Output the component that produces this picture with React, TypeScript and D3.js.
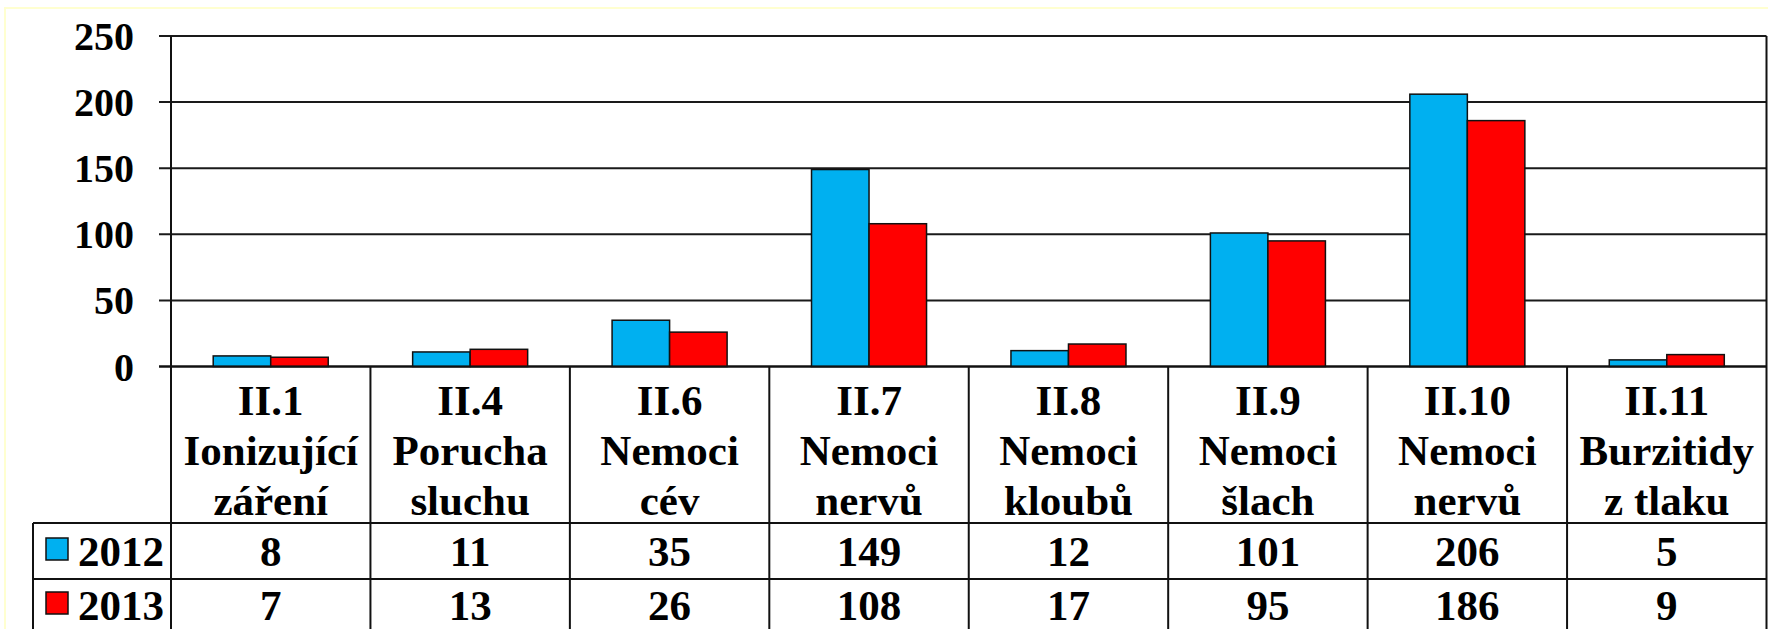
import React, { useEffect, useRef } from 'react';
import * as d3 from 'd3';

// category codes + two-line names shown in the table header
const codes = ['II.1', 'II.4', 'II.6', 'II.7', 'II.8', 'II.9', 'II.10', 'II.11'];
const names1 = ['Ionizující', 'Porucha', 'Nemoci', 'Nemoci', 'Nemoci', 'Nemoci', 'Nemoci', 'Burzitidy'];
const names2 = ['záření', 'sluchu', 'cév', 'nervů', 'kloubů', 'šlach', 'nervů', 'z tlaku'];
const series = ['2012', '2013'];
const values2012 = [8, 11, 35, 149, 12, 101, 206, 5];
const values2013 = [7, 13, 26, 108, 17, 95, 186, 9];
const colors = ['#00B0F0', '#FF0000'];
const yTicks = [0, 50, 100, 150, 200, 250];

const FONT = "'Liberation Serif', 'DejaVu Serif', serif";

const App: React.FC = () => {
  const ref = useRef<SVGSVGElement>(null);

  useEffect(() => {
    if (!ref.current) return;
    const svg = d3.select(ref.current);
    svg.selectAll('*').remove();

    const width = 1768;
    const height = 629;
    const plotLeft = 171;
    const plotRight = 1766.5;
    const plotTop = 36;
    const plotBottom = 366.5;
    const tableLeft = 33;
    const row1 = 523;
    const row2 = 579;

    svg.attr('width', width).attr('height', height)
      .style('font-family', FONT).style('font-weight', '700');

    // pale frame
    svg.append('rect')
      .attr('x', 5).attr('y', 8)
      .attr('width', width).attr('height', height)
      .attr('fill', 'white')
      .attr('stroke', '#ffffd0')
      .attr('stroke-width', 2);

    const x = d3.scaleBand<string>().domain(codes).range([plotLeft, plotRight]);
    const xs = d3.scaleBand<string>().domain(series)
      .range([0, x.bandwidth()]).paddingInner(0).paddingOuter(0.734);
    const y = d3.scaleLinear().domain([0, 250]).range([plotBottom, plotTop]);

    // gridlines + ticks
    svg.append('g').selectAll('line').data(yTicks).join('line')
      .attr('x1', 159).attr('x2', plotRight)
      .attr('y1', d => y(d)).attr('y2', d => y(d))
      .attr('stroke', '#1a1a1a').attr('stroke-width', 2);

    svg.append('g').selectAll('text').data(yTicks).join('text')
      .attr('x', 134).attr('y', d => y(d))
      .attr('dy', '0.35em')
      .attr('text-anchor', 'end')
      .style('font-size', '40px')
      .text(d => d);

    // bars
    const allVals = [values2012, values2013];
    allVals.forEach((vals, si) => {
      svg.append('g').selectAll('rect').data(vals).join('rect')
        .attr('x', (_, i) => (x(codes[i]) ?? 0) + (xs(series[si]) ?? 0))
        .attr('y', d => y(d))
        .attr('width', xs.bandwidth())
        .attr('height', d => y(0) - y(d))
        .attr('fill', colors[si])
        .attr('stroke', '#111').attr('stroke-width', 1.5);
    });

    // axis frame
    const frame = svg.append('g').attr('stroke', '#111').attr('stroke-width', 2);
    frame.append('line').attr('x1', plotLeft).attr('x2', plotLeft).attr('y1', plotTop).attr('y2', height);
    frame.append('line').attr('x1', plotRight).attr('x2', plotRight).attr('y1', plotTop).attr('y2', height);
    frame.append('line').attr('x1', 159).attr('x2', plotRight).attr('y1', plotBottom).attr('y2', plotBottom);

    // table lines
    codes.slice(1).forEach(c => {
      frame.append('line').attr('x1', x(c) ?? 0).attr('x2', x(c) ?? 0)
        .attr('y1', plotBottom).attr('y2', height);
    });
    [row1, row2].forEach(ry => {
      frame.append('line').attr('x1', tableLeft).attr('x2', plotRight).attr('y1', ry).attr('y2', ry);
    });
    frame.append('line').attr('x1', tableLeft).attr('x2', tableLeft).attr('y1', row1).attr('y2', height);

    // header text + values
    const hdr = svg.append('g').style('font-size', '43px').attr('text-anchor', 'middle');
    codes.forEach((c, i) => {
      const cx = (x(c) ?? 0) + x.bandwidth() / 2;
      [c, names1[i], names2[i]].forEach((t, li) => {
        hdr.append('text').attr('x', cx).attr('y', 415 + li * 50).text(t);
      });
      allVals.forEach((vals, si) => {
        hdr.append('text').attr('x', cx).attr('y', si === 0 ? 566 : 620).text(vals[i]);
      });
    });

    // legend cells
    series.forEach((s, si) => {
      const baseY = si === 0 ? 566 : 620;
      svg.append('rect')
        .attr('x', 46).attr('y', baseY - 28)
        .attr('width', 22).attr('height', 22)
        .attr('fill', colors[si])
        .attr('stroke', '#111').attr('stroke-width', 1.5);
      svg.append('text')
        .attr('x', 78).attr('y', baseY)
        .style('font-size', '43px')
        .text(s);
    });
  }, []);

  return (
    <div style={{ position: 'absolute', left: 0, top: 0 }}>
      <svg ref={ref} style={{ display: 'block' }}></svg>
    </div>
  );
};

export default App;
